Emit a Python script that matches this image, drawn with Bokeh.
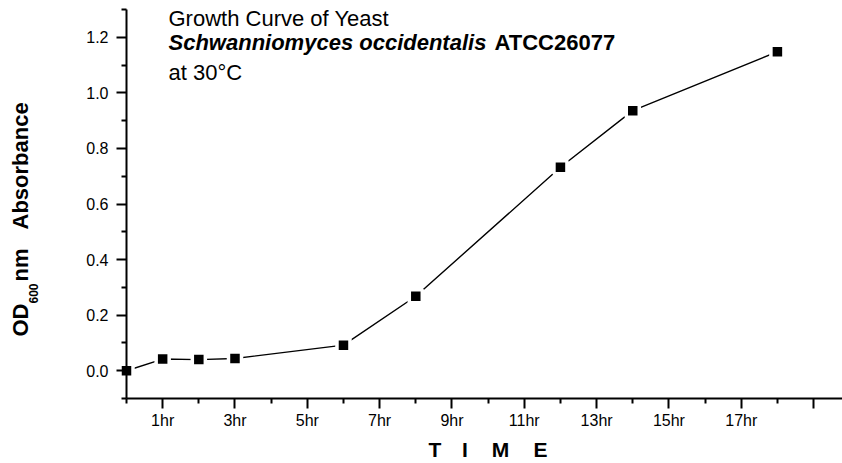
import numpy as np
from bokeh.plotting import figure
from bokeh.models import Label, FixedTicker, Range1d, PrintfTickFormatter
from bokeh.embed import file_html
from bokeh.resources import INLINE

# Optical density readings of the culture over time
hours = [0, 1, 2, 3, 6, 8, 12, 14, 18]
od600 = [0.0, 0.042, 0.040, 0.044, 0.092, 0.268, 0.732, 0.936, 1.148]

# Axis ticks and labels
x_major = [1, 3, 5, 7, 9, 11, 13, 15, 17, 19]
x_minor = [0, 2, 4, 6, 8, 10, 12, 14, 16, 18]
x_labels = ["1hr", "3hr", "5hr", "7hr", "9hr", "11hr", "13hr", "15hr", "17hr", ""]
y_major = [0.0, 0.2, 0.4, 0.6, 0.8, 1.0, 1.2]
y_minor = [-0.1, 0.1, 0.3, 0.5, 0.7, 0.9, 1.1, 1.3]

W, H = 842, 463
FONT = "Liberation Sans"

# Axis extents and where the axes sit on the canvas (pixels)
X_LO, X_HI = 0.0, 19.8
Y_LO, Y_HI = -0.1, 1.3
AX_LEFT, AX_RIGHT, AX_TOP, AX_BOTTOM = 126, 842, 9, 398

# The frame fills the whole canvas; the axes are pinned at the data origin
x_per_px = (X_HI - X_LO) / (AX_RIGHT - AX_LEFT)
y_per_px = (Y_HI - Y_LO) / (AX_BOTTOM - AX_TOP)
x_range = Range1d(X_LO - AX_LEFT * x_per_px, X_HI + (W - AX_RIGHT) * x_per_px)
y_range = Range1d(Y_LO - (H - AX_BOTTOM) * y_per_px, Y_HI + AX_TOP * y_per_px)

p = figure(width=W, height=H, output_backend="svg", toolbar_location=None,
           x_range=x_range, y_range=y_range, min_border=0)
p.outline_line_color = None
p.grid.visible = False
p.background_fill_color = "white"
p.border_fill_color = "white"

for ax in (p.xaxis, p.yaxis):
    ax.axis_line_width = 2
    ax.axis_line_color = "black"
    ax.major_tick_line_width = 2
    ax.minor_tick_line_width = 2
    ax.major_tick_line_color = "black"
    ax.minor_tick_line_color = "black"
    ax.major_tick_in = 0
    ax.major_tick_out = 10
    ax.minor_tick_in = 0
    ax.minor_tick_out = 5
    ax.major_label_text_font = FONT
    ax.major_label_text_font_size = "16px"
    ax.major_label_text_color = "black"

p.xaxis.fixed_location = Y_LO
p.xaxis.bounds = (X_LO, X_HI)
p.xaxis.ticker = FixedTicker(ticks=x_major, minor_ticks=x_minor)
p.xaxis.major_label_overrides = {t: lab for t, lab in zip(x_major, x_labels)}
p.xaxis.major_label_standoff = 3

p.yaxis.fixed_location = X_LO
p.yaxis.bounds = (Y_LO, Y_HI)
p.yaxis.ticker = FixedTicker(ticks=y_major, minor_ticks=y_minor)
p.yaxis.formatter = PrintfTickFormatter(format="%.1f")
p.yaxis.major_label_standoff = 8

p.line(hours, od600, line_color="black", line_width=1.4)
p.scatter(hours, od600, marker="square", size=13, fill_color="black",
          line_color="white", line_width=3.5)


def lab(text, x, y, size, style="normal", angle=0, align="left"):
    # x, y: canvas pixels from the top-left corner of the text baseline start;
    # the label box sits a little below the baseline, so lift it back up
    px = float(size.rstrip("px"))
    shift = 0.38 * px
    if angle:
        x, y = x - shift, y
    else:
        y = y - shift
    p.add_layout(Label(x=x, y=H - y, x_units="screen", y_units="screen",
                       text=text, text_font=FONT, text_font_size=size,
                       text_font_style=style, text_color="black",
                       text_baseline="alphabetic", text_align=align,
                       angle=angle))


# Title block
lab("Growth Curve of Yeast", 168, 26.5, "22px")
lab("Schwanniomyces occidentalis", 168, 50, "22px", "bold italic")
lab("ATCC26077", 494, 50, "22px", "bold")
lab("at 30°C", 168, 80, "22px")

# Horizontal axis title, letter by letter
for letter, cx in zip("TIME", [434.5, 464.5, 500, 540]):
    lab(letter, cx, 456.5, "21px", "bold", align="center")

# Vertical axis title with the wavelength as a subscript
lab("OD", 28, 336, "22px", "bold", angle=np.pi / 2)
lab("600", 38, 303, "12px", "bold", angle=np.pi / 2)
lab("nm", 28, 281, "22px", "bold", angle=np.pi / 2)
lab("Absorbance", 28, 229, "22px", "bold", angle=np.pi / 2)

open("out.html", "w").write(file_html(p, INLINE))
